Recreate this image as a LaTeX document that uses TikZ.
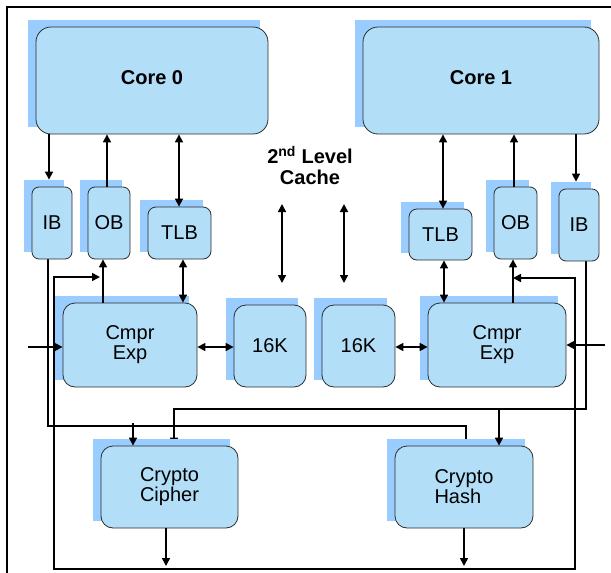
\documentclass[tikz,border=0pt]{standalone}
\usepackage{fontspec}
\setmainfont{Liberation Sans}
\usetikzlibrary{arrows.meta}
\definecolor{boxfill}{RGB}{178,222,247}
\definecolor{shadowblue}{RGB}{153,204,255}
\definecolor{boxline}{RGB}{45,45,45}
\pgfdeclarelayer{hidden}
\pgfdeclarelayer{shade}
\pgfsetlayers{hidden,shade,main}

\begin{document}
\begin{tikzpicture}[x=1pt,y=-1pt,
  blk/.style={draw=boxline, line width=0.8pt, fill=boxfill, rounded corners=#1,
    inner sep=0pt, align=center, font=\fontsize{20}{20}\selectfont},
  blk/.default=12pt,
  boldtext/.style={font=\bfseries\fontsize{20}{21}\selectfont},
  wire/.style={line width=1.6pt},
  arr/.style={wire, -{Triangle[length=8pt,width=8pt]}},
  dbl/.style={wire, {Triangle[length=8pt,width=8pt]}-{Triangle[length=8pt,width=8pt]}},
  frame/.style={line width=1.2pt}]
\useasboundingbox (0,0) rectangle (611,573);

% outer frame (left and top edges)
\draw[frame] (7,573) -- (7,7) -- (611,7);

% cores
\node[blk=15pt, minimum width=232pt, minimum height=107pt, boldtext] (core0) at (152,80.5) {\raisebox{5pt}{Core 0}};
\node[blk=15pt, minimum width=236pt, minimum height=107pt, boldtext] (core1) at (481,80.5) {\raisebox{5pt}{Core 1}};

% buffers and TLBs
\node[blk=7pt, minimum width=40pt, minimum height=72pt] (ibl) at (52,223) {IB};
\node[blk=7pt, minimum width=42pt, minimum height=72pt] (obl) at (109,223) {OB};
\node[blk=8pt, minimum width=63pt, minimum height=52pt] (tlbl) at (179.5,233) {TLB};
\node[blk=8pt, minimum width=63pt, minimum height=51pt] (tlbr) at (440.5,234.5) {TLB};
\node[blk=7pt, minimum width=43pt, minimum height=72pt] (obr) at (515.5,223) {OB};
\node[blk=7pt, minimum width=40pt, minimum height=72pt] (ibr) at (579,225) {IB};

% compression units and local caches
\node[blk, minimum width=134pt, minimum height=84pt] (cmprl) at (130,345) {Cmpr\\Exp};
\node[blk, minimum width=72pt, minimum height=82pt] (kl) at (270,346) {16K};
\node[blk, minimum width=73pt, minimum height=82pt] (kr) at (358.5,346) {16K};
\node[blk, minimum width=138pt, minimum height=84pt] (cmprr) at (497,345) {Cmpr\\Exp};

% crypto units
\node[blk, minimum width=137pt, minimum height=82pt] (cipher) at (169.5,487) {Crypto\\Cipher};
\node[blk, minimum width=138pt, minimum height=82pt, align=left] (hash) at (464,487) {Crypto\\Hash};

% cache label
\node[boldtext, align=center] (cache) at (310,165.5) {2\textsuperscript{nd} Level\\Cache};

% flat shadows behind every block
\begin{pgfonlayer}{shade}
\foreach \n in {core0,core1,ibl,obl,tlbl,tlbr,obr,ibr,cmprl,kl,kr,cmprr,cipher,hash}{
  \fill[shadowblue] ([shift={(-8,-7)}]\n.south west) rectangle ([shift={(-8,-7)}]\n.north east);
  \coordinate (\n-sh) at ([shift={(-8,-7)}]\n.north);
}
\end{pgfonlayer}

% core <-> buffers
\draw[arr] (49,0 |- core0.south) -- (49,0 |- ibl-sh);
\draw[arr] (107,0 |- obl.north) -- (107,0 |- core0.south);
\draw[dbl] (179,0 |- core0.south) -- (179,0 |- tlbl.north);
\draw[dbl] (443,0 |- core1.south) -- (443,0 |- tlbr.north);
\draw[arr] (514,0 |- obr.north) -- (514,0 |- core1.south);
\draw[arr] (576,0 |- core1.south) -- (576,0 |- ibr-sh);

% second level cache ports
\coordinate (c1a) at (282,204); \coordinate (c1b) at (282,283);
\coordinate (c2a) at (344,204); \coordinate (c2b) at (344,283);
\draw[dbl] (c1a) -- (c1b);
\draw[dbl] (c2a) -- (c2b);

% TLB / OB <-> compression units
\draw[dbl] (183,0 |- tlbl.south) -- (183,0 |- cmprl.north);
\draw[dbl] (444,0 |- tlbr.south) -- (444,0 |- cmprr.north);
\draw[arr] (103,0 |- cmprl.north) -- (103,0 |- obl.south);
\draw[arr] (513,0 |- cmprr.north) -- (513,0 |- obr.south);

% compression units <-> 16K
\draw[dbl] (cmprl.east |- 0,347) -- (kl.west |- 0,347);
\draw[dbl] (kr.east |- 0,347) -- (cmprr.west |- 0,347);

% external inputs
\coordinate (inl) at (28,347);
\coordinate (inr) at (605,345);
\draw[arr] (inl) -- (inl -| cmprl.west);
\draw[arr] (inr) -- (inr -| cmprr.east);

% input buffers to crypto units
\begin{pgfonlayer}{hidden}
\draw[wire] (48,0 |- ibl.south) |- (466,426) -- (466,0 |- hash.north);
\draw[arr] (586,0 |- ibr.south) |- (174,409) -- (174,0 |- cipher.north);
\end{pgfonlayer}
\draw[arr] (133,423) -- (133,0 |- cipher.north);
\draw[arr] (499,409) -- (499,0 |- hash.north);

% crypto outputs onto the return bus
\coordinate (busl) at (54,569);
\coordinate (busr) at (575,569);
\draw[arr] (166,0 |- cipher.south) -- (166,566);
\draw[arr] (464,0 |- hash.south) -- (464,566);
\draw[dbl] (100,277) -| (busl) -- (busr) |- (513,278);
\end{tikzpicture}
\end{document}
